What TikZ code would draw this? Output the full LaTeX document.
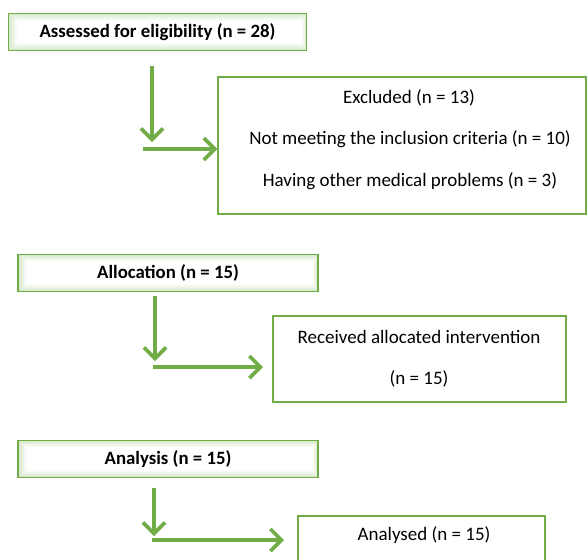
\documentclass[tikz,border=0pt]{standalone}
\usepackage{fontspec}
\setmainfont{Carlito}
\usetikzlibrary{arrows.meta}
\definecolor{og}{RGB}{112,173,71}
\tikzset{
  titlebox/.style={draw=og, line width=1.8pt, minimum width=298pt, minimum height=37pt, inner sep=0pt, font=\fontsize{18.8}{21}\selectfont\bfseries},
  infobox/.style={draw=og, line width=1.4pt, inner sep=0pt, align=center},
  infotext/.style={font=\fontsize{19}{22}\selectfont, inner sep=0pt},
  flow/.style={draw=og, line width=3.6pt, -{Straight Barb[length=11pt, width=22pt]}},
}
\newcommand{\glowfill}[4]{% x1 y1 x2 y2
  \foreach \i in {0,...,7}{
    \pgfmathsetmacro{\pc}{30-4*\i}
    \fill[og!\pc!white] ({#1+\i*1.2},{#2+\i*1.0}) rectangle ({#3-\i*0.6},{#4-\i*1.0});
  }
  \fill[white] ({#1+9.6},{#2+8}) rectangle ({#3-4.8},{#4-8});
}
\begin{document}
\begin{tikzpicture}[x=1pt,y=-1pt]
\useasboundingbox (0,0) rectangle (587,560);
\clip (0,0) rectangle (587,560);
\fill[white] (0,0) rectangle (587,560);
% title boxes
\glowfill{8}{13}{307}{51}
\node[titlebox] (assess) at (157.5,32) {Assessed for eligibility (n = 28)};
\glowfill{18}{254}{318}{292}
\node[titlebox, minimum width=300pt] (alloc) at (168,273) {Allocation (n = 15)};
\glowfill{18}{440}{318}{478}
\node[titlebox, minimum width=300pt] (analysis) at (168,459) {Analysis (n = 15)};
% info boxes
\node[infobox, minimum width=368pt, minimum height=137pt] (excl) at (402,145.5) {};
\node[infotext] (e1) at (409,98) {Excluded (n = 13)};
\node[infotext] (e2) at (410,139) {Not meeting the inclusion criteria (n = 10)};
\node[infotext] (e3) at (410,181) {Having other medical problems (n = 3)};
\node[infobox, minimum width=293pt, minimum height=86pt] (recv) at (419.5,359) {};
\node[infotext] (r1) at (419,337) {Received allocated intervention};
\node[infotext] (r2) at (419,379) {(n = 15)};
\node[infobox, minimum width=247pt, minimum height=90pt] (anl) at (421.5,561) {};
\node[infotext] (a1) at (424,535) {Analysed (n = 15)};
% arrows
\coordinate (v1s) at (152,66);
\coordinate (v1e) at (152,142);
\coordinate (h1s) at (143,149);
\draw[flow] (v1s) -- (v1e);
\draw[flow] (h1s) -- (excl.west |- h1s);
\coordinate (v2s) at (155,296);
\coordinate (v2e) at (155,361);
\coordinate (h2s) at (153,367);
\draw[flow] (v2s) -- (v2e);
\draw[flow] (h2s) -- (263,367) coordinate (h2e);
\coordinate (v3s) at (154,488);
\coordinate (v3e) at (154,536);
\coordinate (h3s) at (152,540);
\draw[flow] (v3s) -- (v3e);
\draw[flow] (h3s) -- (284,540) coordinate (h3e);
\end{tikzpicture}
\end{document}
